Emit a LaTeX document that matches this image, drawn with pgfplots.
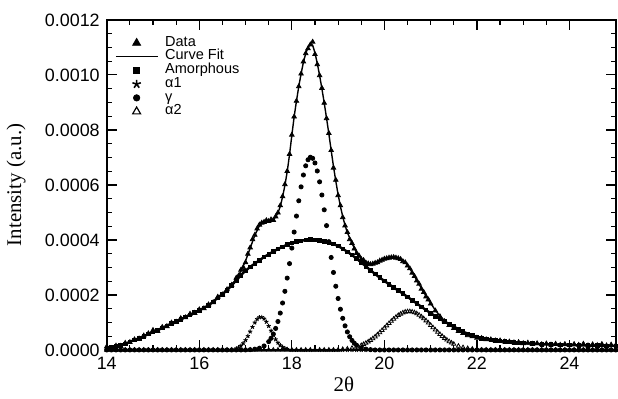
\documentclass[border=0pt]{standalone}
\usepackage{fontspec}
\setmainfont{Liberation Serif}
\newfontfamily\sansf{Liberation Sans}
\usepackage{pgfplots}
\pgfplotsset{compat=1.18}
\begin{document}
\begin{tikzpicture}
\begin{axis}[
  scale only axis, width=256pt, height=166pt,
  xmin=14, xmax=25, ymin=0, ymax=0.0012,
  xtick={14,16,18,20,22,24}, minor x tick num=3,
  ytick={0,0.0002,0.0004,0.0006,0.0008,0.0010,0.0012}, minor y tick num=3,
  tick align=inside, major tick length=5pt, minor tick length=2.5pt,
  axis line style={line width=0.9pt},
  every tick/.style={line width=0.6pt,black},
  scaled y ticks=false,
  yticklabel style={/pgf/number format/.cd, fixed, fixed zerofill, precision=4, assume math mode=true},
  xticklabel style={/pgf/number format/assume math mode=true},
  ticklabel style={font=\sansf\fontsize{9}{10}\selectfont},
  xlabel={2θ}, ylabel={Intensity (a.u.)},
  label style={font=\fontsize{10.5}{12}\selectfont},
  xlabel style={at={(axis description cs:0.466,-0.105)}, anchor=center},
  ylabel style={at={(axis description cs:-0.178,0.5)}, anchor=center},
  legend cell align=left,
  legend image code/.code={\draw[mark repeat=2,mark phase=2,#1] plot coordinates {(0pt,0pt) (10.5pt,0pt) (21pt,0pt)};},
  legend style={at={(axis description cs:0.0156,0.952)}, anchor=north west,
    draw=none, fill=none, font=\sansf\fontsize{7.3}{8}\selectfont, row sep=0pt, column sep=3pt,
    inner sep=0pt,
    nodes={inner sep=0.5pt, text height=4.6pt, text depth=1.3pt}},
]
% amorphous underlay (same values, drawn as band)
\addplot[black, line width=1.2pt, forget plot] coordinates {
(14.0,0.000008)(14.1,0.000010)(14.2,0.000013)(14.3,0.000017)(14.4,0.000022)(14.5,0.000030)(14.6,0.000036)(14.7,0.000043)(14.8,0.000050)(14.9,0.000058)(15.0,0.000065)(15.1,0.000072)(15.2,0.000080)(15.3,0.000088)(15.4,0.000096)(15.5,0.000104)(15.6,0.000112)(15.7,0.000120)(15.8,0.000128)(15.9,0.000136)(16.0,0.000144)(16.1,0.000153)(16.2,0.000162)(16.3,0.000175)(16.4,0.000190)(16.5,0.000203)(16.6,0.000217)(16.7,0.000235)(16.8,0.000253)(16.9,0.000272)(17.0,0.000288)(17.1,0.000302)(17.2,0.000314)(17.3,0.000326)(17.4,0.000338)(17.5,0.000348)(17.6,0.000358)(17.7,0.000367)(17.8,0.000375)(17.9,0.000383)(18.0,0.000389)(18.1,0.000394)(18.2,0.000397)(18.3,0.000400)(18.4,0.000401)(18.5,0.000400)(18.6,0.000398)(18.7,0.000395)(18.8,0.000391)(18.9,0.000385)(19.0,0.000378)(19.1,0.000368)(19.2,0.000357)(19.3,0.000345)(19.4,0.000332)(19.5,0.000318)(19.6,0.000304)(19.7,0.000290)(19.8,0.000276)(19.9,0.000263)(20.0,0.000251)(20.1,0.000239)(20.2,0.000227)(20.3,0.000216)(20.4,0.000205)(20.5,0.000193)(20.6,0.000181)(20.7,0.000169)(20.8,0.000157)(20.9,0.000145)(21.0,0.000134)(21.1,0.000123)(21.2,0.000113)(21.3,0.000103)(21.4,0.000094)(21.5,0.000085)(21.6,0.000076)(21.7,0.000067)(21.8,0.000059)(21.9,0.000052)(22.0,0.000047)(22.1,0.000043)(22.2,0.000040)(22.3,0.000037)(22.4,0.000035)(22.5,0.000033)(22.6,0.000031)(22.7,0.000029)(22.8,0.000027)(22.9,0.000026)(23.0,0.000025)(23.2,0.000023)(23.4,0.000021)(23.6,0.000020)(23.8,0.000019)(24.0,0.000018)(24.2,0.000017)(24.4,0.000016)(24.6,0.000016)(24.8,0.000015)(25.0,0.000015)
};
% Data
\addplot[black, only marks, mark=triangle*, mark size=1.3pt, legend image post style={mark size=2.3pt}] coordinates {
(14.0,0.000012)(14.1,0.000006)(14.2,0.000015)(14.3,0.000014)(14.4,0.000025)(14.5,0.000028)(14.6,0.000038)(14.7,0.000041)(14.8,0.000052)(14.9,0.000060)(15.0,0.000072)(15.1,0.000068)(15.2,0.000083)(15.3,0.000086)(15.4,0.000099)(15.5,0.000102)(15.6,0.000115)(15.7,0.000118)(15.8,0.000131)(15.9,0.000134)(16.0,0.000147)(16.1,0.000151)(16.2,0.000165)(16.3,0.000173)(16.4,0.000193)(16.5,0.000201)(16.6,0.000220)(16.7,0.000236)(16.8,0.000262)(16.85,0.000270)(16.9,0.000291)(16.95,0.000300)(17.0,0.000318)(17.05,0.000349)(17.1,0.000372)(17.15,0.000402)(17.2,0.000418)(17.25,0.000441)(17.3,0.000455)(17.35,0.000462)(17.4,0.000465)(17.45,0.000471)(17.5,0.000468)(17.55,0.000474)(17.6,0.000472)(17.65,0.000485)(17.7,0.000499)(17.75,0.000525)(17.8,0.000558)(17.85,0.000602)(17.9,0.000650)(17.95,0.000712)(18.0,0.000782)(18.05,0.000848)(18.1,0.000905)(18.15,0.000958)(18.2,0.001004)(18.25,0.001048)(18.3,0.001078)(18.35,0.001096)(18.4,0.001110)(18.45,0.001120)(18.5,0.001075)(18.55,0.001038)(18.6,0.000998)(18.65,0.000952)(18.7,0.000898)(18.75,0.000842)(18.8,0.000788)(18.85,0.000726)(18.9,0.000662)(18.95,0.000618)(19.0,0.000562)(19.05,0.000525)(19.1,0.000482)(19.15,0.000452)(19.2,0.000428)(19.25,0.000402)(19.3,0.000388)(19.35,0.000368)(19.4,0.000352)(19.45,0.000343)(19.5,0.000330)(19.55,0.000326)(19.6,0.000317)(19.65,0.000314)(19.7,0.000311)(19.75,0.000313)(19.8,0.000316)(19.85,0.000318)(19.9,0.000324)(19.95,0.000327)(20.0,0.000331)(20.05,0.000333)(20.1,0.000335)(20.15,0.000336)(20.2,0.000337)(20.25,0.000335)(20.3,0.000333)(20.35,0.000330)(20.4,0.000322)(20.45,0.000318)(20.5,0.000306)(20.55,0.000296)(20.6,0.000280)(20.65,0.000268)(20.7,0.000252)(20.75,0.000240)(20.8,0.000222)(20.85,0.000210)(20.9,0.000194)(20.95,0.000183)(21.0,0.000168)(21.1,0.000143)(21.2,0.000122)(21.3,0.000104)(21.4,0.000090)(21.5,0.000079)(21.6,0.000068)(21.7,0.000061)(21.8,0.000053)(21.9,0.000049)(22.0,0.000044)(22.1,0.000043)(22.2,0.000038)(22.3,0.000038)(22.4,0.000034)(22.5,0.000034)(22.6,0.000030)(22.7,0.000030)(22.8,0.000027)(22.9,0.000028)(23.0,0.000024)(23.1,0.000026)(23.2,0.000022)(23.3,0.000024)(23.4,0.000020)(23.5,0.000023)(23.6,0.000019)(23.7,0.000022)(23.8,0.000018)(23.9,0.000021)(24.0,0.000017)(24.1,0.000021)(24.2,0.000018)(24.3,0.000022)(24.4,0.000016)(24.5,0.000020)(24.6,0.000017)(24.7,0.000021)(24.8,0.000016)(24.9,0.000019)(25.0,0.000017)
};
\addlegendentry{Data}
% Curve fit
\addplot[black, line width=0.7pt, no marks] coordinates {
(14.0,0.000008)(14.1,0.000010)(14.2,0.000013)(14.3,0.000017)(14.4,0.000022)(14.5,0.000030)(14.6,0.000036)(14.7,0.000043)(14.8,0.000050)(14.9,0.000058)(15.0,0.000066)(15.1,0.000073)(15.2,0.000081)(15.3,0.000089)(15.4,0.000097)(15.5,0.000105)(15.6,0.000113)(15.7,0.000121)(15.8,0.000129)(15.9,0.000137)(16.0,0.000145)(16.1,0.000154)(16.2,0.000163)(16.3,0.000176)(16.4,0.000191)(16.5,0.000204)(16.6,0.000219)(16.7,0.000238)(16.8,0.000258)(16.9,0.000287)(17.0,0.000324)(17.1,0.000370)(17.2,0.000417)(17.3,0.000452)(17.4,0.000467)(17.5,0.000467)(17.6,0.000471)(17.7,0.000498)(17.75,0.000522)(17.8,0.000556)(17.85,0.000598)(17.9,0.000648)(17.95,0.000710)(18.0,0.000780)(18.05,0.000848)(18.1,0.000905)(18.15,0.000958)(18.2,0.001004)(18.25,0.001046)(18.3,0.001078)(18.35,0.001099)(18.4,0.001112)(18.45,0.001108)(18.5,0.001080)(18.55,0.001042)(18.6,0.000998)(18.65,0.000950)(18.7,0.000898)(18.75,0.000843)(18.8,0.000786)(18.85,0.000726)(18.9,0.000667)(18.95,0.000614)(19.0,0.000565)(19.05,0.000522)(19.1,0.000485)(19.15,0.000453)(19.2,0.000427)(19.3,0.000388)(19.4,0.000354)(19.5,0.000331)(19.6,0.000318)(19.7,0.000312)(19.8,0.000315)(19.9,0.000322)(20.0,0.000330)(20.1,0.000334)(20.2,0.000336)(20.3,0.000334)(20.4,0.000325)(20.5,0.000309)(20.6,0.000282)(20.7,0.000254)(20.8,0.000224)(20.9,0.000196)(21.0,0.000170)(21.1,0.000145)(21.2,0.000124)(21.3,0.000106)(21.4,0.000092)(21.5,0.000080)(21.6,0.000070)(21.7,0.000062)(21.8,0.000055)(21.9,0.000049)(22.0,0.000045)(22.2,0.000039)(22.4,0.000035)(22.6,0.000031)(22.8,0.000028)(23.0,0.000025)(23.5,0.000021)(24.0,0.000019)(24.5,0.000017)(25.0,0.000016)
};
\addlegendentry{Curve Fit}
% Amorphous
\addplot[black, only marks, mark=square*, mark size=0.9pt, legend image post style={mark size=1.5pt}] coordinates {
(14.0,0.000008)(14.1,0.000010)(14.2,0.000013)(14.3,0.000017)(14.4,0.000022)(14.5,0.000030)(14.6,0.000036)(14.7,0.000043)(14.8,0.000050)(14.9,0.000058)(15.0,0.000065)(15.1,0.000072)(15.2,0.000080)(15.3,0.000088)(15.4,0.000096)(15.5,0.000104)(15.6,0.000112)(15.7,0.000120)(15.8,0.000128)(15.9,0.000136)(16.0,0.000144)(16.1,0.000153)(16.2,0.000162)(16.3,0.000175)(16.4,0.000190)(16.5,0.000203)(16.6,0.000217)(16.7,0.000235)(16.8,0.000253)(16.9,0.000272)(17.0,0.000288)(17.1,0.000302)(17.2,0.000314)(17.3,0.000326)(17.4,0.000338)(17.5,0.000348)(17.6,0.000358)(17.7,0.000367)(17.8,0.000375)(17.9,0.000383)(18.0,0.000389)(18.1,0.000394)(18.2,0.000397)(18.3,0.000400)(18.4,0.000401)(18.5,0.000400)(18.6,0.000398)(18.7,0.000395)(18.8,0.000391)(18.9,0.000385)(19.0,0.000378)(19.1,0.000368)(19.2,0.000357)(19.3,0.000345)(19.4,0.000332)(19.5,0.000318)(19.6,0.000304)(19.7,0.000290)(19.8,0.000276)(19.9,0.000263)(20.0,0.000251)(20.1,0.000239)(20.2,0.000227)(20.3,0.000216)(20.4,0.000205)(20.5,0.000193)(20.6,0.000181)(20.7,0.000169)(20.8,0.000157)(20.9,0.000145)(21.0,0.000134)(21.1,0.000123)(21.2,0.000113)(21.3,0.000103)(21.4,0.000094)(21.5,0.000085)(21.6,0.000076)(21.7,0.000067)(21.8,0.000059)(21.9,0.000052)(22.0,0.000047)(22.1,0.000043)(22.2,0.000040)(22.3,0.000037)(22.4,0.000035)(22.5,0.000033)(22.6,0.000031)(22.7,0.000029)(22.8,0.000027)(22.9,0.000026)(23.0,0.000025)(23.2,0.000023)(23.4,0.000021)(23.6,0.000020)(23.8,0.000019)(24.0,0.000018)(24.2,0.000017)(24.4,0.000016)(24.6,0.000016)(24.8,0.000015)(25.0,0.000015)
};
\addlegendentry{Amorphous}
% alpha1
\addplot[black, only marks, mark=star, mark size=1.1pt, line width=0.5pt, legend image post style={mark size=2.2pt, line width=0.8pt}] coordinates {
(14.0,0)(14.1,0)(14.2,0)(14.3,0)(14.4,0)(14.5,0)(14.6,0)(14.7,0)(14.8,0)(14.9,0)(15.0,0)(15.1,0)(15.2,0)(15.3,0)(15.4,0)(15.5,0)(15.6,0)(15.7,0)(15.8,0)(15.9,0)(16.0,0)(16.1,0)(16.2,0)(16.3,0)(16.4,0)(16.5,0)(16.6,0)(16.7,0)
(16.8,0.0000053)(16.85,0.0000093)(16.9,0.0000154)(16.95,0.0000241)(17.0,0.0000358)(17.05,0.0000502)(17.1,0.0000667)(17.15,0.0000837)(17.2,0.0000995)(17.25,0.0001118)(17.3,0.0001188)(17.35,0.0001195)(17.4,0.0001137)(17.45,0.0001023)(17.5,0.0000870)(17.55,0.0000700)(17.6,0.0000534)(17.65,0.0000385)(17.7,0.0000262)(17.75,0.0000169)(17.8,0.0000103)(17.85,0.0000060)(17.9,0.0000032)
(18.0,0)(18.1,0)(18.2,0)(18.3,0)(18.4,0)(18.5,0)(18.6,0)(18.7,0)(18.8,0)(18.9,0)(19.0,0)(19.1,0)(19.2,0)(19.3,0)(19.4,0)(19.5,0)(19.6,0)(19.7,0)(19.8,0)(19.9,0)(20.0,0)(20.1,0)(20.2,0)(20.3,0)(20.4,0)(20.5,0)(20.6,0)(20.7,0)(20.8,0)(20.9,0)(21.0,0)(21.1,0)(21.2,0)(21.3,0)(21.4,0)(21.5,0)(21.6,0)(21.7,0)(21.8,0)(21.9,0)(22.0,0)(22.1,0)(22.2,0)(22.3,0)(22.4,0)(22.5,0)(22.6,0)(22.7,0)(22.8,0)(22.9,0)(23.0,0)(23.1,0)(23.2,0)(23.3,0)(23.4,0)(23.5,0)(23.6,0)(23.7,0)(23.8,0)(23.9,0)(24.0,0)(24.1,0)(24.2,0)(24.3,0)(24.4,0)(24.5,0)(24.6,0)(24.7,0)(24.8,0)(24.9,0)(25.0,0)
};
\addlegendentry{α1}
% gamma
\addplot[black, only marks, mark=*, mark size=1.05pt, legend image post style={mark size=1.6pt}] coordinates {
(14.0,0)(14.1,0)(14.2,0)(14.3,0)(14.4,0)(14.5,0)(14.6,0)(14.7,0)(14.8,0)(14.9,0)(15.0,0)(15.1,0)(15.2,0)(15.3,0)(15.4,0)(15.5,0)(15.6,0)(15.7,0)(15.8,0)(15.9,0)(16.0,0)(16.1,0)(16.2,0)(16.3,0)(16.4,0)(16.5,0)(16.6,0)(16.7,0)(16.8,0)(16.9,0)(17.0,0)(17.1,0.000001)(17.2,0.000003)(17.3,0.0000065)(17.4,0.0000146)
(17.5,0.0000302)(17.55,0.0000424)(17.6,0.0000581)(17.65,0.0000783)(17.7,0.0001035)(17.75,0.0001342)(17.8,0.0001708)(17.85,0.0002133)(17.9,0.0002613)(17.95,0.0003140)(18.0,0.0003704)(18.05,0.0004287)(18.1,0.0004868)(18.15,0.0005424)(18.2,0.0005930)(18.25,0.0006361)(18.3,0.0006695)(18.35,0.0006915)(18.4,0.0007007)(18.45,0.0006968)(18.5,0.0006798)(18.55,0.0006507)(18.6,0.0006113)(18.65,0.0005634)(18.7,0.0005095)(18.75,0.0004521)(18.8,0.0003936)(18.85,0.0003363)(18.9,0.0002818)(18.95,0.0002317)(19.0,0.0001871)(19.05,0.0001481)(19.1,0.0001151)(19.15,0.0000878)(19.2,0.0000656)(19.25,0.0000482)(19.3,0.0000347)(19.35,0.0000245)(19.4,0.0000170)(19.5,0.0000077)(19.6,0.0000032)(19.7,0.0000012)
(19.8,0)(19.9,0)(20.0,0)(20.1,0)(20.2,0)(20.3,0)(20.4,0)(20.5,0)(20.6,0)(20.7,0)(20.8,0)(20.9,0)(21.0,0)(21.1,0)(21.2,0)(21.3,0)(21.4,0)(21.5,0)(21.6,0)(21.7,0)(21.8,0)(21.9,0)(22.0,0)(22.1,0)(22.2,0)(22.3,0)(22.4,0)(22.5,0)(22.6,0)(22.7,0)(22.8,0)(22.9,0)(23.0,0)(23.1,0)(23.2,0)(23.3,0)(23.4,0)(23.5,0)(23.6,0)(23.7,0)(23.8,0)(23.9,0)(24.0,0)(24.1,0)(24.2,0)(24.3,0)(24.4,0)(24.5,0)(24.6,0)(24.7,0)(24.8,0)(24.9,0)(25.0,0)
};
\addlegendentry{γ}
% alpha2
\addplot[black, only marks, mark=triangle, mark size=1.2pt, line width=0.4pt, legend image post style={mark size=2.3pt, line width=0.6pt}] coordinates {
(14.0,0)(14.1,0)(14.2,0)(14.3,0)(14.4,0)(14.5,0)(14.6,0)(14.7,0)(14.8,0)(14.9,0)(15.0,0)(15.1,0)(15.2,0)(15.3,0)(15.4,0)(15.5,0)(15.6,0)(15.7,0)(15.8,0)(15.9,0)(16.0,0)(16.1,0)(16.2,0)(16.3,0)(16.4,0)(16.5,0)(16.6,0)(16.7,0)(16.8,0)(16.9,0)(17.0,0)(17.1,0)(17.2,0)(17.3,0)(17.4,0)(17.5,0)(17.6,0)(17.7,0)(17.8,0)(17.9,0)(18.0,0)(18.1,0)(18.2,0)(18.3,0)(18.4,0)(18.5,0)(18.6,0)(18.7,0)(18.8,0)(18.9,0)(19.0,0)
(19.1,0.0000023)(19.2,0.0000039)(19.3,0.0000068)(19.4,0.0000109)(19.5,0.0000168)(19.55,0.0000205)(19.6,0.0000248)(19.65,0.0000298)(19.7,0.0000353)(19.75,0.0000414)(19.8,0.0000482)(19.85,0.0000554)(19.9,0.0000633)(19.95,0.0000715)(20.0,0.0000798)(20.05,0.0000883)(20.1,0.0000967)(20.15,0.0001048)(20.2,0.0001126)(20.25,0.0001195)(20.3,0.0001259)(20.35,0.0001310)(20.4,0.0001354)(20.45,0.0001383)(20.5,0.0001397)(20.55,0.0001398)(20.6,0.0001386)(20.65,0.0001359)(20.7,0.0001321)(20.75,0.0001271)(20.8,0.0001210)(20.85,0.0001141)(20.9,0.0001065)(20.95,0.0000984)(21.0,0.0000900)(21.05,0.0000815)(21.1,0.0000731)(21.15,0.0000649)(21.2,0.0000571)(21.25,0.0000497)(21.3,0.0000428)(21.35,0.0000366)(21.4,0.0000308)(21.45,0.0000258)(21.5,0.0000213)(21.6,0.0000142)(21.7,0.0000091)(21.8,0.0000056)(21.9,0.0000033)(22.0,0.0000019)
(22.1,0)(22.2,0)(22.3,0)(22.4,0)(22.5,0)(22.6,0)(22.7,0)(22.8,0)(22.9,0)(23.0,0)(23.1,0)(23.2,0)(23.3,0)(23.4,0)(23.5,0)(23.6,0)(23.7,0)(23.8,0)(23.9,0)(24.0,0)(24.1,0)(24.2,0)(24.3,0)(24.4,0)(24.5,0)(24.6,0)(24.7,0)(24.8,0)(24.9,0)(25.0,0)
};
\addlegendentry{α2}
\end{axis}
\path ([xshift=-53pt,yshift=-21.5pt]current axis.south west) rectangle ([yshift=10pt]current axis.north east);
\end{tikzpicture}
\end{document}
